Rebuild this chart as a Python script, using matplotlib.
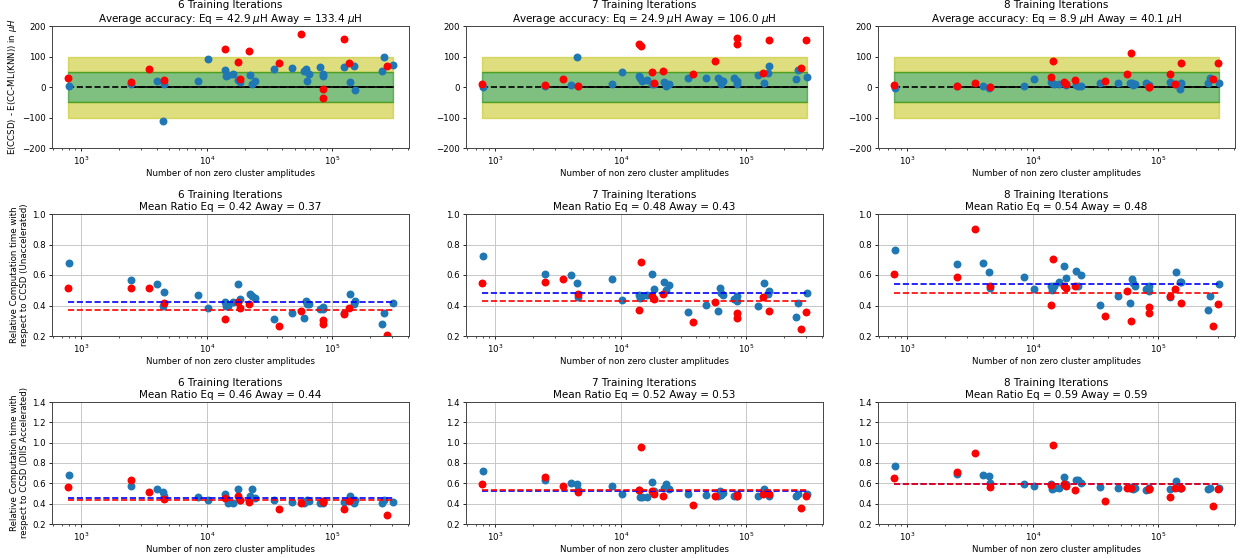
import numpy as np
import matplotlib
matplotlib.use("Agg")
import matplotlib.pyplot as plt

nan = np.nan

iterations = [6, 7, 8]

# number of non zero cluster amplitudes (x)
x_eq = [800, 2500, 4000, 4500, 4550, 8500, 10200, 14000, 14300, 14700, 16100,
        17700, 18500, 21900, 23000, 24300, 34300, 47800, 59000, 61500, 62500,
        64500, 79500, 84000, 84500, 123000, 137000, 148000, 151000, 250000,
        256000, 302000]
x_away = [790, 2480, 3500, 4560, 13900, 14400, 17700, 18400, 21800, 37800,
          55800, 60800, 83500, 84000, 122500, 136000, 150000, 272000, 299000]

# Row 1: energy error in micro Hartree
acc_eq_6 = [3, 10, 19, -110, 11, 21, 91, 55, 36, 38, 44, 24, 15, 38, 11, 21, 58,
            61, 52, 60, 21, 44, 64, 42, 35, 66, 16, 69, -10, 52, 100, 72]
acc_eq_7 = [0, 3, 8, 100, 3, 10, 48, 35, 28, 20, 24, 9, 10, 16, 2, 9, 28, 28, 28,
            24, 11, 20, 28, 20, 9, 40, 12, 45, 68, 27, 55, 32]
acc_eq_8 = [-2, 2, 2, -4, 1, 4, 25, 17, 13, 9, 11, 12, 6, 8, 2, 3, 14, 14, 14, 13,
            5, 10, 12, 4, 6, 17, 10, -5, 14, 14, 30, 14]
acc_away_6 = [28, 15, 58, 24, 125, nan, 82, 26, 117, 79, 174, nan, -5, -36, 158,
              78, nan, 69, nan]
acc_away_7 = [11, 8, 25, 4, 141, 136, 49, 12, 52, 44, 84, nan, 162, 141, nan, 45,
              154, 63, 154]
acc_away_8 = [5, 3, 13, -1, 33, 84, 17, 9, 24, 19, 42, 110, 1, -1, 44, 9, 79, 26, 79]
acc_mean_eq = [42.9, 24.9, 8.9]
acc_mean_away = [133.4, 106.0, 40.1]

# Row 2: relative time vs unaccelerated CCSD
time_eq_6 = [0.68, 0.564, 0.538, 0.396, 0.49, 0.47, 0.385, 0.42, 0.396, 0.40,
             0.42, 0.538, 0.442, 0.473, 0.462, 0.449, 0.311, 0.348, 0.318, 0.427,
             0.412, 0.41, 0.379, 0.392, 0.379, 0.35, 0.477, 0.412, 0.431, 0.279,
             0.353, 0.416]
time_eq_7 = [0.726, 0.608, 0.603, 0.549, 0.453, 0.575, 0.436, 0.466, 0.451, 0.462,
             0.470, 0.608, 0.508, 0.555, 0.499, 0.536, 0.357, 0.403, 0.364, 0.516,
             0.479, 0.470, 0.444, 0.462, 0.429, 0.396, 0.549, 0.477, 0.494, 0.324,
             0.414, 0.481]
time_eq_8 = [0.767, 0.675, 0.68, 0.617, 0.516, 0.588, 0.507, 0.527, 0.499, 0.531,
             0.555, 0.658, 0.582, 0.627, 0.531, 0.599, 0.403, 0.460, 0.414, 0.571,
             0.549, 0.527, 0.507, 0.531, 0.494, 0.453, 0.621, 0.551, 0.555, 0.370,
             0.464, 0.542]
time_away_6 = [0.518, 0.518, 0.514, 0.414, 0.309, nan, 0.422, 0.383, 0.407, 0.265,
               0.364, nan, 0.307, 0.276, 0.346, 0.385, nan, 0.209, nan]
time_away_7 = [0.545, 0.551, 0.573, 0.477, 0.368, 0.686, 0.464, 0.442, 0.473, 0.292,
               0.420, nan, 0.353, 0.318, nan, 0.455, 0.364, 0.248, 0.357]
time_away_8 = [0.606, 0.584, 0.90, 0.527, 0.403, 0.702, 0.527, 0.518, 0.527, 0.329,
               0.492, 0.298, 0.392, 0.353, 0.460, 0.510, 0.416, 0.265, 0.409]
time_mean_eq = [0.42, 0.48, 0.54]
time_mean_away = [0.37, 0.43, 0.48]

# Row 3: relative time vs DIIS accelerated CCSD
diis_eq_6 = [0.68, 0.578, 0.542, 0.512, 0.473, 0.466, 0.437, 0.493, 0.46, 0.407,
             0.41, 0.542, 0.44, 0.473, 0.549, 0.457, 0.437, 0.42, 0.41, 0.427,
             0.44, 0.43, 0.407, 0.424, 0.41, 0.414, 0.473, 0.404, 0.44, 0.407,
             0.434, 0.417]
diis_eq_7 = [0.726, 0.628, 0.605, 0.595, 0.532, 0.578, 0.493, 0.53, 0.47, 0.47,
             0.466, 0.611, 0.52, 0.559, 0.59, 0.549, 0.50, 0.483, 0.48, 0.522,
             0.49, 0.506, 0.473, 0.493, 0.473, 0.473, 0.545, 0.506, 0.473, 0.473,
             0.50, 0.493]
diis_eq_8 = [0.766, 0.687, 0.68, 0.67, 0.605, 0.591, 0.572, 0.59, 0.545, 0.55,
             0.552, 0.66, 0.59, 0.63, 0.637, 0.605, 0.565, 0.552, 0.552, 0.565,
             0.545, 0.559, 0.539, 0.552, 0.55, 0.542, 0.621, 0.559, 0.552, 0.542,
             0.559, 0.55]
diis_away_6 = [0.565, 0.628, 0.516, 0.447, 0.453, nan, 0.473, 0.437, 0.414, 0.345,
               0.41, nan, 0.424, 0.42, 0.351, 0.424, nan, 0.292, nan]
diis_away_7 = [0.591, 0.664, 0.575, 0.516, 0.532, 0.96, 0.526, 0.50, 0.476, 0.384,
               0.473, nan, 0.486, 0.48, nan, 0.493, 0.493, 0.355, 0.476]
diis_away_8 = [0.657, 0.707, 0.90, 0.565, 0.582, 0.98, 0.595, 0.578, 0.536, 0.43,
               0.559, 0.559, 0.542, 0.54, 0.463, 0.555, 0.555, 0.378, 0.545]
diis_mean_eq = [0.46, 0.52, 0.59]
diis_mean_away = [0.44, 0.53, 0.59]

acc_eq = [acc_eq_6, acc_eq_7, acc_eq_8]
acc_away = [acc_away_6, acc_away_7, acc_away_8]
time_eq = [time_eq_6, time_eq_7, time_eq_8]
time_away = [time_away_6, time_away_7, time_away_8]
diis_eq = [diis_eq_6, diis_eq_7, diis_eq_8]
diis_away = [diis_away_6, diis_away_7, diis_away_8]

FS_T = 7.5
FS_L = 6.2
MS = 22
BLUE = "tab:blue"

W, H = 1241, 558
fig = plt.figure(figsize=(W / 100, H / 100), dpi=100)
col_left = [52, 466, 878]
row_top = [26, 214, 402]
aw, ah = 357, 122

xmin = min(min(x_eq), min(x_away))
xmax = max(max(x_eq), max(x_away))


def style(ax):
    ax.set_xscale("log")
    ax.tick_params(axis="both", which="major", labelsize=FS_L, length=2.5, width=0.6, pad=2)
    ax.tick_params(axis="both", which="minor", length=1.5, width=0.5)
    for s in ax.spines.values():
        s.set_linewidth(0.7)
        s.set_color("#444444")
    ax.set_xlabel("Number of non zero cluster amplitudes", fontsize=FS_L, labelpad=2)


for c in range(3):
    it = iterations[c]
    for r in range(3):
        ax = fig.add_axes([col_left[c] / W, 1 - (row_top[r] + ah) / H, aw / W, ah / H])
        if r == 0:
            ax.fill_between([xmin, xmax], 50, 100, color="y", alpha=0.5)
            ax.fill_between([xmin, xmax], -100, -50, color="y", alpha=0.5)
            ax.fill_between([xmin, xmax], -50, 50, color="g", alpha=0.5)
            ax.plot([xmin, xmax], [0, 0], "k--", lw=1.2)
            ax.plot([x_eq[1], xmax], [0, 0], "k-", lw=1.2)
            ax.scatter(x_eq, acc_eq[c], s=MS, color=BLUE, zorder=3)
            ax.scatter(x_away, acc_away[c], s=MS, color="red", zorder=3)
            ax.set_ylim(-200, 200)
            ax.set_yticks([-200, -100, 0, 100, 200])
            ax.set_title(f"{it} Training Iterations\nAverage accuracy: Eq = {acc_mean_eq[c]:.1f} $\\mu$H "
                         f"Away = {acc_mean_away[c]:.1f} $\\mu$H", fontsize=FS_T, pad=3)
            if c == 0:
                ax.set_ylabel("E(CCSD) - E(CC-ML(KNN)) in $\\mu H$", fontsize=FS_L, labelpad=2)
        else:
            if r == 1:
                ye, ya, me, ma = time_eq[c], time_away[c], time_mean_eq[c], time_mean_away[c]
                ax.set_ylim(0.2, 1.0)
                ax.set_yticks([0.2, 0.4, 0.6, 0.8, 1.0])
                ylab = "Relative Computation time with\nrespect to CCSD (Unaccelerated)"
            else:
                ye, ya, me, ma = diis_eq[c], diis_away[c], diis_mean_eq[c], diis_mean_away[c]
                ax.set_ylim(0.2, 1.4)
                ax.set_yticks([0.2, 0.4, 0.6, 0.8, 1.0, 1.2, 1.4])
                ylab = "Relative Computation time with\nrespect to CCSD (DIIS Accelerated)"
            ax.grid(True, color="#c8c8c8", lw=0.7)
            ax.set_axisbelow(True)
            ax.scatter(x_eq, ye, s=MS, color=BLUE, zorder=2)
            ax.scatter(x_away, ya, s=MS, color="red", zorder=2)
            ax.plot([xmin, xmax], [me, me], "b--", lw=1.2, zorder=3)
            ax.plot([xmin, xmax], [ma, ma], "r--", lw=1.2, zorder=3)
            ax.set_title(f"{it} Training Iterations\nMean Ratio Eq = {me:.2f} Away = {ma:.2f}",
                         fontsize=FS_T, pad=3)
            if c == 0:
                ax.set_ylabel(ylab, fontsize=FS_L, labelpad=2)
        style(ax)
        ax.yaxis.set_major_formatter(matplotlib.ticker.FormatStrFormatter("%.1f") if r > 0
                                     else matplotlib.ticker.ScalarFormatter())

fig.savefig("out.png", dpi=100)
